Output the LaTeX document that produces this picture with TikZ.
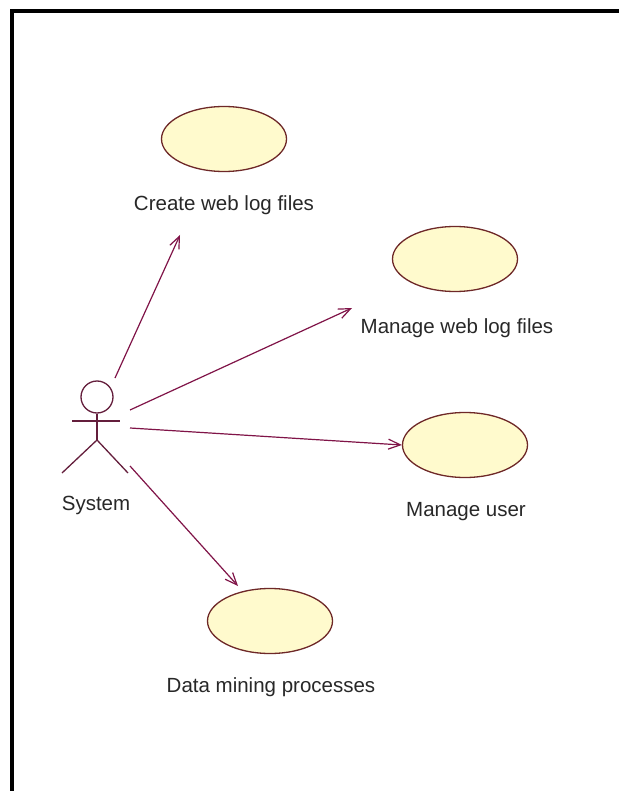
\documentclass[tikz,border=0pt]{standalone}
\usepackage{fontspec}
\setmainfont{Liberation Sans}
\usetikzlibrary{arrows.meta,shapes.geometric}
\definecolor{assoc}{RGB}{128,20,72}
\definecolor{ucline}{RGB}{110,40,40}
\definecolor{ucfill}{RGB}{255,250,205}
\definecolor{actorline}{RGB}{100,30,60}
\definecolor{labeltext}{RGB}{40,40,40}

\begin{document}
\begin{tikzpicture}[x=1pt,y=-1pt,
  usecase/.style={ellipse, draw=ucline, fill=ucfill, line width=1.3pt,
    minimum width=125pt, minimum height=65pt, inner sep=0pt},
  uclabel/.style={font=\fontsize{20.5}{24}\selectfont, text=labeltext, inner sep=0pt},
  assocline/.style={draw=assoc, line width=1.2pt,
    -{Straight Barb[length=12pt,width=10pt]}},
  actorstroke/.style={draw=actorline, line width=1.3pt}]

% page and frame
\useasboundingbox (0,0) rectangle (619,791);
\fill[white] (0,0) rectangle (619,791);
\draw[line width=4pt] (12,791) -- (12,11) -- (619,11);

% actor
\node[circle, actorstroke, minimum size=32pt, inner sep=0pt] (head) at (97,397) {};
\coordinate (hip) at (97,440);
\draw[actorstroke] (head.south) -- (hip);
\draw[actorstroke] (72,421) -- (120,421);
\draw[actorstroke] (62,473) -- (hip) -- (128,473);
\node[uclabel] (sys) at (96,505) {System};

% use cases
\node[usecase] (uc1) at (224,139) {};
\node[uclabel] (l1) at (224,205) {Create web log files};
\node[usecase] (uc2) at (455,259) {};
\node[uclabel] (l2) at (457,328) {Manage web log files};
\node[usecase] (uc3) at (465,445) {};
\node[uclabel] (l3) at (466,512) {Manage user};
\node[usecase] (uc4) at (270,621) {};
\node[uclabel] (l4) at (271,687) {Data mining processes};

% associations
\coordinate (s1) at (115,378);
\coordinate (t1) at (180,235);
\coordinate (s2) at (130,410);
\coordinate (t2) at (352,308);
\coordinate (s3) at (130,428);
\coordinate (s4) at (130,466);
\coordinate (t4) at (238,586);
\draw[assocline] (s1) -- (t1);
\draw[assocline] (s2) -- (t2);
\draw[assocline] (s3) -- (uc3.west);
\draw[assocline] (s4) -- (t4);
\end{tikzpicture}
\end{document}
